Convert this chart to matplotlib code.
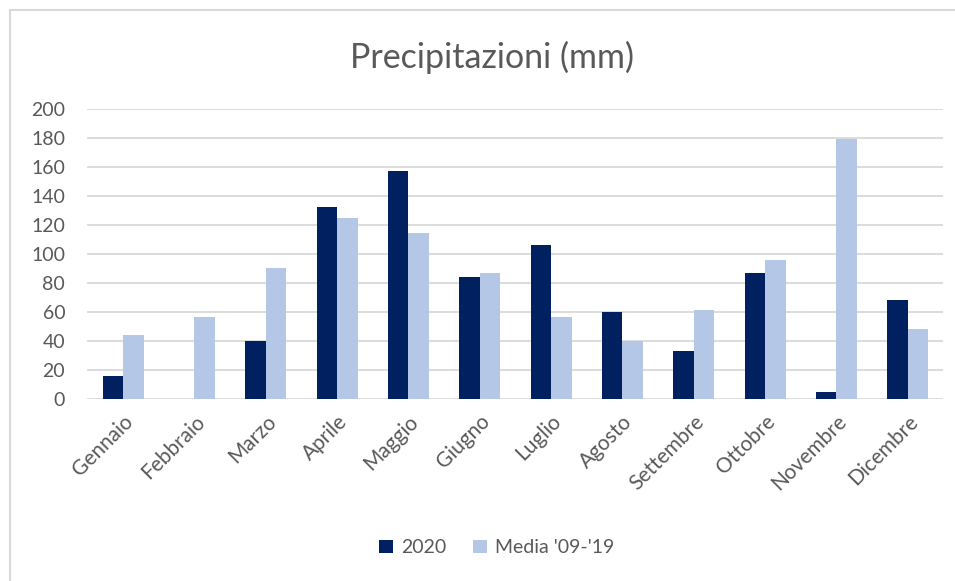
import matplotlib.pyplot as plt
import numpy as np
from matplotlib.lines import Line2D

mesi = ["Gennaio", "Febbraio", "Marzo", "Aprile", "Maggio", "Giugno",
        "Luglio", "Agosto", "Settembre", "Ottobre", "Novembre", "Dicembre"]
pioggia_2020 = [16, 0, 40, 132, 157, 84, 106, 60, 33, 86.5, 5, 68]
media_09_19 = [44, 56.5, 90, 125, 114, 86.5, 56.5, 40, 61, 96, 179, 48]

blu_scuro = "#002060"
blu_chiaro = "#B4C7E7"
grigio = "#595959"

plt.rcParams["font.family"] = ["Lato", "DejaVu Sans"]

fig = plt.figure(figsize=(9.55, 5.81), dpi=100)
ax = fig.add_axes([0.0915, 0.3133, 0.8964, 0.4997])

x = np.arange(len(mesi))
w = 0.288
ax.bar(x - w / 2, pioggia_2020, w, color=blu_scuro, label="2020", zorder=3)
ax.bar(x + w / 2, media_09_19, w, color=blu_chiaro, label="Media '09-'19", zorder=3)

ax.set_xlim(-0.5, len(mesi) - 0.5)
ax.set_ylim(0, 200)
ax.set_yticks(range(0, 201, 20))
ax.grid(axis="y", color="#D9D9D9", linewidth=1.3, zorder=0)
for s in ax.spines.values():
    s.set_visible(False)
ax.tick_params(axis="both", length=0, labelsize=14, colors=grigio)
ax.tick_params(axis="y", pad=16)
ax.tick_params(axis="x", pad=9, labelsize=15)
ax.set_xticks(x)
ax.set_xticklabels(mesi, rotation=45, ha="right", rotation_mode="anchor")

fig.text(0.515, 0.902, "Precipitazioni (mm)", ha="center", va="center",
         fontsize=24.5, color=grigio)

fig.legend(loc="center", bbox_to_anchor=(0.52, 0.057), ncol=2, frameon=False,
           fontsize=14, labelcolor=grigio, handlelength=0.7, handleheight=0.7,
           handletextpad=0.4, columnspacing=1.4)

# cornice grigia in alto e a sinistra
fig.add_artist(Line2D([0.0105, 1.0], [0.9828, 0.9828], color="#D9D9D9", lw=1.5))
fig.add_artist(Line2D([0.0105, 0.0105], [0.0, 0.9828], color="#D9D9D9", lw=1.5))

fig.savefig("out.png", dpi=100)
